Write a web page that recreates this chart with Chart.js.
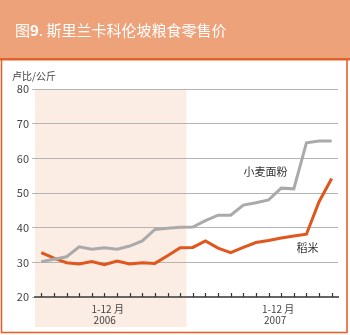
<!DOCTYPE html>
<html>
<head>
<meta charset="utf-8">
<script src="https://cdn.jsdelivr.net/npm/chart.js@4"></script>
<style>
  html, body { margin: 0; padding: 0; background: #fff; }
  #wrap { position: relative; width: 350px; height: 335px; }
</style>
</head>
<body>
<div id="wrap"><canvas id="chart" width="350" height="335"></canvas></div>
<script>
// Colombo retail prices, Jan 2006 - Dec 2007 (rupees per kg)
const months = ['1','2','3','4','5','6','7','8','9','10','11','12',
                '1','2','3','4','5','6','7','8','9','10','11','12'];
const wheatFlour = [30.2, 30.9, 31.6, 34.5, 33.8, 34.2, 33.8, 34.7, 36.2, 39.5, 39.8, 40.1,
                    40.2, 42.0, 43.6, 43.6, 46.5, 47.2, 48.0, 51.4, 51.2, 64.5, 65.0, 65.0];
const rice = [32.8, 31.2, 29.9, 29.5, 30.2, 29.3, 30.4, 29.5, 29.9, 29.7, 31.9, 34.2,
              34.3, 36.2, 34.1, 32.8, 34.3, 35.7, 36.3, 37.0, 37.6, 38.1, 47.5, 54.2];
const yTicks = [20, 30, 40, 50, 60, 70, 80];
const years = ['2006', '2007'];
const periodLabel = '1-12 月';

const FONT = '"Noto Sans CJK SC", "Noto Sans", sans-serif';

const frame = {
  id: 'frame',
  beforeDraw(chart) {
    const { ctx, chartArea: a, scales: { x } } = chart;
    ctx.save();
    ctx.fillStyle = '#fff';
    ctx.fillRect(0, 0, chart.width, chart.height);
    // header band
    ctx.fillStyle = '#EEA27A';
    ctx.fillRect(0, 0, 350, 58);
    ctx.fillStyle = '#E2622C';
    ctx.fillRect(0, 58, 350, 2.5);
    // panel border
    ctx.strokeStyle = '#E2622C';
    ctx.lineWidth = 1.6;
    ctx.strokeRect(1.5, 59, 345.5, 273.5);
    // 2006 shading
    const split = (x.getPixelForValue(11) + x.getPixelForValue(12)) / 2;
    ctx.fillStyle = '#FBEDE3';
    ctx.fillRect(a.left, a.top, split - a.left, 327 - a.top);
    // title, with the figure number in bold
    ctx.fillStyle = '#fff';
    ctx.textBaseline = 'middle';
    ctx.font = '15px ' + FONT;
    ctx.fillText('图', 15, 30);
    let w = ctx.measureText('图').width;
    ctx.font = 'bold 15px ' + FONT;
    ctx.fillText('9', 15 + w, 30);
    w += ctx.measureText('9').width;
    ctx.font = '15px ' + FONT;
    ctx.fillText('. 斯里兰卡科伦坡粮食零售价', 15 + w, 30);
    // unit
    ctx.fillStyle = '#444';
    ctx.font = '10px ' + FONT;
    ctx.fillText('卢比/公斤', 12, 76);
    ctx.restore();
  },
  afterDraw(chart) {
    const { ctx, chartArea: a, scales: { x, y } } = chart;
    ctx.save();
    // month ticks sitting on the axis
    ctx.strokeStyle = '#333';
    ctx.lineWidth = 1.2;
    months.forEach((m, i) => {
      const px = Math.round(x.getPixelForValue(i)) + 0.5;
      ctx.beginPath();
      ctx.moveTo(px, a.bottom - 4);
      ctx.lineTo(px, a.bottom);
      ctx.stroke();
    });
    // period labels under each year
    ctx.fillStyle = '#444';
    ctx.textAlign = 'center';
    ctx.textBaseline = 'middle';
    ctx.font = '10px ' + FONT;
    [5.1, 18.6].forEach((v, k) => {
      const cx = x.getPixelForValue(v);
      ctx.fillText(periodLabel, cx + 2, 309);
      ctx.fillText(years[k], cx - 1, 320);
    });
    // series labels
    ctx.fillStyle = '#333';
    ctx.font = '11px ' + FONT;
    ctx.fillText('小麦面粉', x.getPixelForValue(18) - 3, y.getPixelForValue(56.1));
    ctx.fillText('稻米', x.getPixelForValue(21) + 1, y.getPixelForValue(34.2));
    ctx.restore();
  }
};

new Chart(document.getElementById('chart'), {
  type: 'line',
  data: {
    labels: months,
    datasets: [
      { label: '小麦面粉', data: wheatFlour, borderColor: '#AAAAAA', borderWidth: 3,
        pointRadius: 0, tension: 0, borderJoinStyle: 'miter' },
      { label: '稻米', data: rice, borderColor: '#E0561C', borderWidth: 3,
        pointRadius: 0, tension: 0, borderJoinStyle: 'miter' }
    ]
  },
  options: {
    responsive: false,
    animation: false,
    events: [],
    layout: { padding: { top: 89, right: 12, left: 0, bottom: 0 } },
    plugins: { legend: { display: false }, tooltip: { enabled: false } },
    scales: {
      x: {
        type: 'category',
        offset: true,
        grid: { display: false },
        border: { display: true, color: '#666', width: 2 },
        ticks: { display: false },
        afterFit(s) { s.height = 38; }
      },
      y: {
        min: 20,
        max: 80,
        afterBuildTicks(s) { s.ticks = yTicks.map(v => ({ value: v })); },
        grid: { color: '#B4B4B4', lineWidth: 1, tickLength: 3, drawTicks: true },
        border: { display: false },
        ticks: { color: '#444', padding: 3, font: { size: 11, family: FONT } },
        afterFit(s) { s.width = 35; }
      }
    }
  },
  plugins: [frame]
});
</script>
</body>
</html>
